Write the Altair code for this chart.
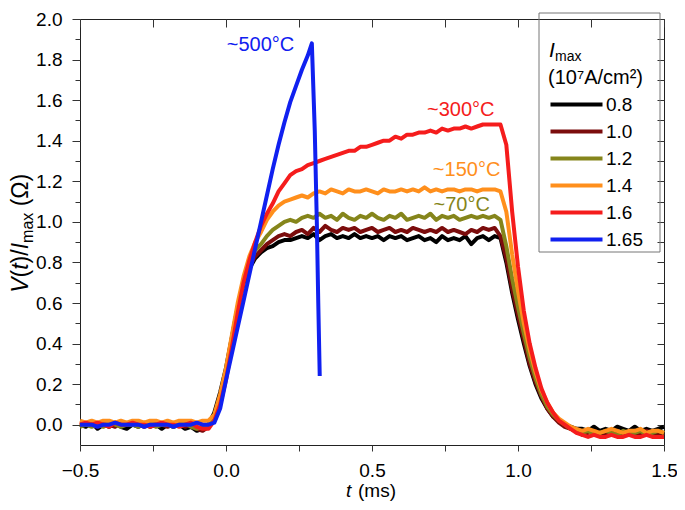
import altair as alt
import pandas as pd

# ---------------- data ----------------
T = [-0.50, -0.48, -0.46, -0.44, -0.42, -0.40, -0.38, -0.36, -0.34, -0.32,
     -0.30, -0.28, -0.26, -0.24, -0.22, -0.20, -0.18, -0.16, -0.14, -0.12,
     -0.10, -0.08, -0.06, -0.04, -0.02, 0.00, 0.02, 0.04, 0.06, 0.08,
     0.10, 0.12, 0.14, 0.16, 0.18, 0.20, 0.22, 0.24, 0.26, 0.28,
     0.30, 0.32, 0.34, 0.36, 0.38, 0.40, 0.42, 0.44, 0.46, 0.48,
     0.50, 0.52, 0.54, 0.56, 0.58, 0.60, 0.62, 0.64, 0.66, 0.68,
     0.70, 0.72, 0.74, 0.76, 0.78, 0.80, 0.82, 0.84, 0.86, 0.88,
     0.90, 0.92, 0.94, 0.96, 0.98, 1.00, 1.02, 1.04, 1.06, 1.08,
     1.10, 1.12, 1.14, 1.16, 1.18, 1.20, 1.22, 1.24, 1.26, 1.28,
     1.30, 1.32, 1.34, 1.36, 1.38, 1.40, 1.42, 1.44, 1.46, 1.48,
     1.50]

V_08 = [0.00, -0.01, 0.01, -0.02, 0.00, -0.01, 0.01, -0.01, -0.02, 0.00, -0.01,
        0.01, -0.01, 0.00, -0.02, 0.00, -0.01, 0.00, -0.02, -0.01, -0.03, -0.02,
        0.00, 0.06, 0.16, 0.28, 0.43, 0.58, 0.70, 0.77, 0.82,
        0.85, 0.87, 0.88, 0.90, 0.91, 0.91, 0.92, 0.93, 0.92, 0.94, 0.91, 0.93,
        0.94, 0.92, 0.93, 0.92, 0.94, 0.92, 0.93, 0.92, 0.93, 0.91, 0.93, 0.92,
        0.93, 0.91, 0.92, 0.93, 0.91, 0.92, 0.90, 0.93, 0.91, 0.92, 0.91, 0.93,
        0.89, 0.92, 0.93, 0.91, 0.93,
        0.92, 0.80, 0.65, 0.52, 0.40, 0.29, 0.20, 0.13, 0.08, 0.04, 0.02, 0.00,
        -0.01, -0.02, -0.02, -0.03, -0.01, -0.03, -0.02, -0.03, -0.01, -0.02,
        -0.03, -0.01, -0.03, -0.02, -0.03, -0.02, -0.01]

V_10 = [0.01, 0.00, 0.00, -0.01, 0.01, 0.00, -0.01, 0.01, 0.00, 0.01, 0.00,
        -0.01, 0.00, 0.01, 0.00, -0.01, 0.00, 0.01, -0.01, 0.00, -0.02, -0.03,
        -0.01, 0.04, 0.14, 0.26, 0.42, 0.57, 0.70, 0.78, 0.83,
        0.86, 0.89, 0.91, 0.93, 0.94, 0.93, 0.95, 0.96, 0.94, 0.97, 0.95, 0.98,
        0.96, 0.95, 0.97, 0.96, 0.97, 0.95, 0.96, 0.97, 0.95, 0.96, 0.97, 0.95,
        0.96, 0.95, 0.97, 0.96, 0.95, 0.96, 0.95, 0.97, 0.95, 0.96, 0.95, 0.94,
        0.96, 0.95, 0.97, 0.96, 0.97,
        0.93, 0.82, 0.67, 0.54, 0.42, 0.30, 0.21, 0.14, 0.08, 0.04, 0.01, -0.01,
        -0.02, -0.03, -0.05, -0.04, -0.03, -0.04, -0.05, -0.04, -0.03, -0.05,
        -0.04, -0.04, -0.05, -0.03, -0.04, -0.05, -0.04]

V_12 = [-0.01, 0.00, -0.01, 0.00, -0.01, 0.01, 0.00, -0.01, 0.00, 0.00, -0.01,
        0.00, 0.01, -0.01, 0.00, 0.00, -0.01, 0.00, 0.01, -0.01, -0.02, -0.01,
        0.00, 0.04, 0.14, 0.26, 0.42, 0.58, 0.71, 0.80, 0.86,
        0.89, 0.93, 0.96, 0.98, 1.00, 1.01, 1.00, 1.02, 1.03, 1.02, 1.04, 1.02,
        1.03, 1.01, 1.04, 1.02, 1.01, 1.03, 1.02, 1.04, 1.02, 1.01, 1.03, 1.02,
        1.04, 1.01, 1.02, 1.03, 1.02, 1.04, 1.01, 1.03, 1.02, 1.03, 1.01, 1.02,
        1.03, 1.02, 1.03, 1.02, 1.03,
        1.01, 0.88, 0.72, 0.58, 0.45, 0.33, 0.23, 0.15, 0.09, 0.05, 0.02, 0.00,
        -0.02, -0.03, -0.04, -0.03, -0.05, -0.04, -0.03, -0.04, -0.05, -0.03,
        -0.04, -0.04, -0.03, -0.05, -0.04, -0.03, -0.04]

V_14 = [0.02, 0.01, 0.02, 0.01, 0.02, 0.02, 0.01, 0.02, 0.01, 0.02, 0.02,
        0.01, 0.02, 0.02, 0.01, 0.02, 0.01, 0.02, 0.02, 0.02, 0.01, 0.02,
        0.02, 0.05, 0.15, 0.28, 0.44, 0.60, 0.73, 0.83, 0.90,
        0.95, 1.01, 1.05, 1.08, 1.10, 1.11, 1.12, 1.13, 1.12, 1.14, 1.15, 1.14,
        1.16, 1.15, 1.14, 1.16, 1.15, 1.15, 1.16, 1.15, 1.14, 1.16, 1.15, 1.15,
        1.16, 1.15, 1.16, 1.15, 1.17, 1.15, 1.16, 1.15, 1.16, 1.16, 1.15, 1.16,
        1.16, 1.15, 1.16, 1.16, 1.16,
        1.15, 1.05, 0.84, 0.66, 0.50, 0.37, 0.26, 0.17, 0.11, 0.06, 0.03, 0.01,
        -0.01, -0.02, -0.03, -0.02, -0.03, -0.04, -0.03, -0.02, -0.03, -0.04,
        -0.03, -0.03, -0.02, -0.04, -0.03, -0.03, -0.04]

V_16 = [0.00, 0.01, 0.00, 0.01, 0.00, -0.01, 0.01, 0.00, 0.00, 0.01, 0.00,
        0.00, -0.01, 0.00, 0.01, 0.00, 0.00, -0.01, 0.00, 0.01, -0.01, -0.02,
        -0.02, 0.02, 0.10, 0.22, 0.38, 0.55, 0.70, 0.81, 0.90,
        0.98, 1.04, 1.09, 1.15, 1.19, 1.23, 1.25, 1.26, 1.28, 1.29, 1.30, 1.31,
        1.32, 1.33, 1.34, 1.35, 1.35, 1.37, 1.37, 1.38, 1.39, 1.40, 1.40, 1.42,
        1.41, 1.43, 1.43, 1.44, 1.44, 1.45, 1.44, 1.46, 1.45, 1.46, 1.46, 1.47,
        1.46, 1.47, 1.48, 1.48, 1.48,
        1.48, 1.38, 1.05, 0.78, 0.56, 0.40, 0.28, 0.18, 0.11, 0.06, 0.02, 0.00,
        -0.02, -0.04, -0.05, -0.06, -0.05, -0.06, -0.06, -0.05, -0.06, -0.06,
        -0.05, -0.06, -0.06, -0.05, -0.06, -0.06, -0.06]

T_165 = [-0.50, -0.48, -0.46, -0.44, -0.42, -0.40, -0.38, -0.36, -0.34, -0.32,
         -0.30, -0.28, -0.26, -0.24, -0.22, -0.20, -0.18, -0.16, -0.14, -0.12,
         -0.10, -0.08, -0.06, -0.04, -0.02, 0.00, 0.02, 0.04, 0.06, 0.08,
         0.10, 0.12, 0.14, 0.16, 0.18, 0.20, 0.22, 0.24, 0.26, 0.28,
         0.294, 0.304, 0.311, 0.316, 0.321]
V_165 = [0.00, 0.00, 0.00, -0.01, 0.00, 0.00, 0.01, 0.00, 0.00, 0.00, 0.00,
         -0.01, 0.00, 0.00, 0.00, 0.00, -0.01, 0.00, 0.00, 0.00, 0.01, 0.00,
         0.00, 0.01, 0.08, 0.22, 0.35, 0.48, 0.61, 0.74, 0.87, 1.00, 1.13,
         1.26, 1.38, 1.49, 1.59, 1.67, 1.75, 1.82,
         1.88, 1.45, 1.00, 0.60, 0.24]

SERIES = ["0.8", "1.0", "1.2", "1.4", "1.6", "1.65"]
COLORS = ["#000000", "#7b0c0c", "#85851b", "#ff8f1c", "#f51c1c", "#1020f0"]

ANN_TEXT = ["~500°C", "~300°C", "~150°C", "~70°C"]
ANN_SERIES = ["1.65", "1.6", "1.4", "1.2"]
ANN_T = [0.118, 0.804, 0.824, 0.807]
ANN_V = [1.87, 1.55, 1.255, 1.085]

X_TICKS = [-0.5, -0.25, 0.0, 0.25, 0.5, 0.75, 1.0, 1.25, 1.5]
Y_TICKS = [0.0, 0.1, 0.2, 0.3, 0.4, 0.5, 0.6, 0.7, 0.8, 0.9, 1.0,
           1.1, 1.2, 1.3, 1.4, 1.5, 1.6, 1.7, 1.8, 1.9, 2.0]

# ---------------- build ----------------
curves = [(T, V_08), (T, V_10), (T, V_12), (T, V_14), (T, V_16), (T_165, V_165)]
for tt, vv in curves:
    assert len(tt) == len(vv)

FONT = "Liberation Sans"
W, H = 584, 426

x_scale = alt.Scale(domain=[-0.5, 1.5], nice=False, zero=False)
y_scale = alt.Scale(domain=[-0.1, 2.0], nice=False, zero=False)

bottom_axis = alt.Axis(
    values=X_TICKS, title=None, grid=False, domain=False,
    labelExpr="abs(datum.value*2 - round(datum.value*2)) < 0.001 ? replace(format(datum.value, '.1f'), '-', '\u2212') : ''",
    labelFontSize=19, labelFont=FONT, labelColor="#000", labelPadding=10,
    labelFlush=False, labelOverlap=False, tickSize=6, tickColor="#333")
left_axis = alt.Axis(
    values=Y_TICKS, title=None, grid=False, domain=False,
    labelExpr="round(datum.value*10) % 2 == 0 ? format(datum.value, '.1f') : ''",
    labelFontSize=19, labelFont=FONT, labelColor="#000", labelPadding=10,
    labelFlush=False, labelOverlap=False,
    tickSize={"condition": {"test": "round(datum.value*10) % 2 == 0", "value": 8}, "value": 5},
    tickColor="#333")
top_axis = alt.Axis(values=X_TICKS, orient="top", title=None, grid=False, domain=False,
                    labels=False, tickSize=8, offset=-8, tickColor="#333")
right_axis = alt.Axis(values=Y_TICKS, orient="right", title=None, grid=False, domain=False,
                      labels=False, tickSize=7, offset=-7, tickColor="#333")

legend = alt.Legend(
    orient="none", legendX=487, legendY=76, title=None,
    symbolType="M-5.2,0H5.2", symbolSize=100, symbolStrokeWidth=4,
    labelFontSize=19, labelFont=FONT, labelColor="#000", labelOffset=20,
    rowPadding=7, padding=0)

color_enc = alt.Color("series:N", scale=alt.Scale(domain=SERIES, range=COLORS), legend=legend)

layers = []
for i, (name, (tt, vv)) in enumerate(zip(SERIES, curves)):
    df = pd.DataFrame({"t": tt, "v": vv, "series": name})
    first = i == 0
    layers.append(
        alt.Chart(df).mark_line(strokeWidth=4, strokeJoin="round", strokeCap="butt").encode(
            x=alt.X("t:Q", scale=x_scale, axis=bottom_axis if first else None),
            y=alt.Y("v:Q", scale=y_scale, axis=left_axis if first else None),
            color=color_enc,
        )
    )

# top / right mirrored tick axes
layers.append(
    alt.Chart(pd.DataFrame({"t": T, "v": V_08})).mark_line(opacity=0).encode(
        x=alt.X("t:Q", scale=x_scale, axis=top_axis),
        y=alt.Y("v:Q", scale=y_scale, axis=right_axis),
    )
)

# temperature annotations
ann = pd.DataFrame({"label": ANN_TEXT, "series": ANN_SERIES, "t": ANN_T, "v": ANN_V})
layers.append(
    alt.Chart(ann).mark_text(font=FONT, fontSize=20, align="center", baseline="middle").encode(
        x=alt.X("t:Q", scale=x_scale, axis=None),
        y=alt.Y("v:Q", scale=y_scale, axis=None),
        text="label:N",
        color=alt.Color("series:N", scale=alt.Scale(domain=SERIES, range=COLORS), legend=None),
    )
)

one = pd.DataFrame({"k": [0]})


def label(text, x, y, size, italic=False, angle=0, align="left"):
    kw = dict(text=text, font=FONT, fontSize=size, align=align, baseline="alphabetic",
              color="#000", angle=angle)
    if italic:
        kw["fontStyle"] = "italic"
    return alt.Chart(one).mark_text(**kw).encode(x=alt.value(x), y=alt.value(y))


# x axis title: t (ms)
layers.append(label("t", 266, 478, 19, italic=True))
layers.append(label("(ms)", 278, 478, 19))

# y axis title: V(t)/I_max (Ω), rotated
YB = -52
layers.append(label("V", YB, 273.8, 23, italic=True, angle=270))
layers.append(label("(", YB, 258.5, 23, angle=270))
layers.append(label("t", YB, 250.8, 23, italic=True, angle=270))
layers.append(label(")/", YB, 244.4, 23, angle=270))
layers.append(label("I", YB, 230.3, 23, italic=True, angle=270))
layers.append(label("max", YB + 5, 223.9, 16, angle=270))
layers.append(label("(\u03a9)", YB, 187.3, 23, angle=270))

# legend box and title
layers.append(
    alt.Chart(one).mark_rect(fillOpacity=0, stroke="#777", strokeWidth=1).encode(
        x=alt.value(459), x2=alt.value(580), y=alt.value(-6), y2=alt.value(233))
)
layers.append(label("I", 469, 38, 21, italic=True))
layers.append(label("max", 475, 42, 14))
layers.append(label("(10\u2077A/cm\u00b2)", 468, 65, 20))

chart = alt.layer(*layers).resolve_axis(x="independent", y="independent").properties(
    width=W, height=H,
    autosize=alt.AutoSizeParams(type="none"),
    padding={"left": 72, "top": 11, "right": 13, "bottom": 57},
).configure_view(stroke="#222", strokeWidth=1)

chart.save("out.html", embed_options={"renderer": "svg", "actions": False})
